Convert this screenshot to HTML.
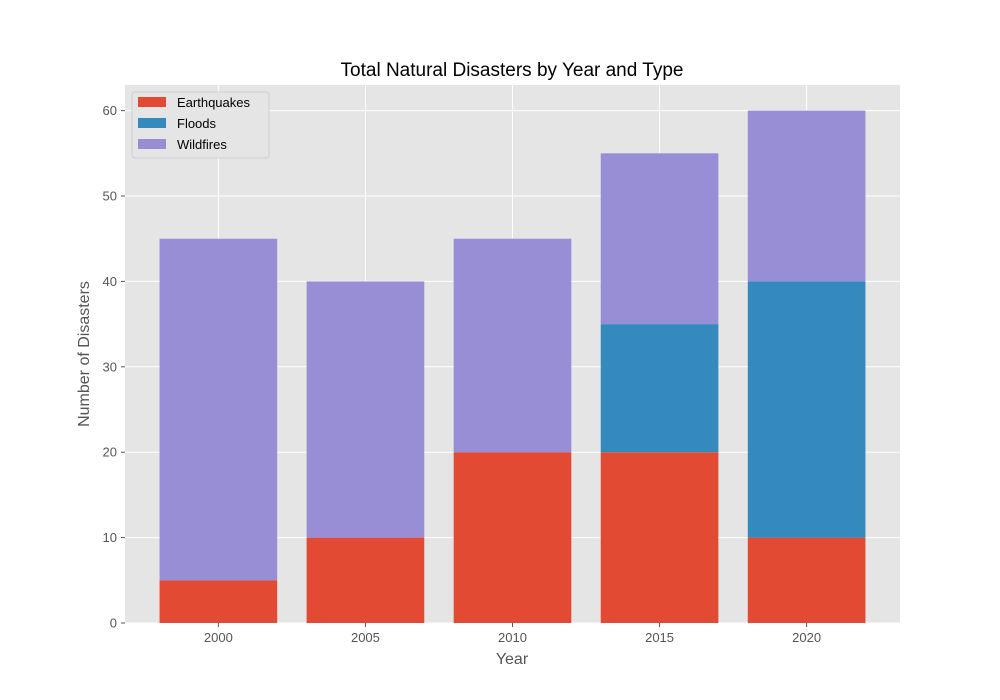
<!DOCTYPE html>
<html><head><meta charset="utf-8"><style>
body{margin:0;background:#fff;}
svg{display:block;font-family:"Liberation Sans","DejaVu Sans",sans-serif;}
</style></head><body>
<svg id="chart" width="1000" height="700">
<rect x="0" y="0" width="1000" height="700" fill="#fff"/>
<rect x="125" y="85" width="775" height="538" fill="#e5e5e5"/>
<g id="grid"></g><g id="bars"></g><g id="axes"></g>
<text x="512" y="76" text-anchor="middle" font-size="19" fill="#000">Total Natural Disasters by Year and Type</text>
<text x="512" y="664" text-anchor="middle" font-size="16" fill="#555">Year</text>
<text transform="translate(89,354) rotate(-90)" text-anchor="middle" font-size="16" fill="#555">Number of Disasters</text>
<g id="legend">
<rect x="132" y="92" width="137" height="66" rx="3" fill="#e5e5e5" stroke="#ccc" stroke-width="1" opacity="0.9"/>
</g>
</svg>
<script>
const categories=["2000","2005","2010","2015","2020"];
const earthquakes=[5,10,20,20,10];
const floods=[0,0,0,15,30];
const wildfires=[40,30,25,20,20];
const yTicks=[0,10,20,30,40,50,60];
const seriesNames=["Earthquakes","Floods","Wildfires"];
const colors=["#E24A33","#348ABD","#988ED5"];
const NS="http://www.w3.org/2000/svg";
const L=125,R=900,T=85,B=623,ymax=63,xmin=-0.635,xmax=4.635;
const ys=v=>B-(v/ymax)*(B-T);
const xs=i=>L+(i-xmin)/(xmax-xmin)*(R-L);
function mk(tag,attrs,parent){const e=document.createElementNS(NS,tag);for(const k in attrs)e.setAttribute(k,attrs[k]);parent.appendChild(e);return e;}
const grid=document.getElementById('grid'),bars=document.getElementById('bars'),axes=document.getElementById('axes'),legend=document.getElementById('legend');
yTicks.forEach(t=>{
 const y=ys(t);
 const g=mk('line',{x1:L,x2:R,y1:y,y2:y,stroke:'#fff','stroke-width':1},grid);
 
 
 mk('line',{x1:L-4,x2:L,y1:y,y2:y,stroke:'#555'},axes);
 const tx=mk('text',{x:L-8,y:y+4.5,'text-anchor':'end','font-size':13,fill:'#555'},axes);
 tx.textContent=t;
 
 
});
categories.forEach((c,i)=>{
 const x=xs(i);
 const g=mk('line',{x1:x,x2:x,y1:T,y2:B,stroke:'#fff','stroke-width':1},grid);
 
 
 mk('line',{x1:x,x2:x,y1:B,y2:B+4,stroke:'#555'},axes);
 const tx=mk('text',{x:x,y:B+19,'text-anchor':'middle','font-size':13,fill:'#555'},axes);
 tx.textContent=c;
 
 
});
const series=[earthquakes,floods,wildfires];
const w=(xs(0.4)-xs(-0.4));
categories.forEach((c,i)=>{
 let base=0;
 series.forEach((s,k)=>{
  const v=s[i];
  if(v>0){
   const r=mk('rect',{x:xs(i)-w/2,y:ys(base+v),width:w,height:ys(base)-ys(base+v),fill:colors[k]},bars);
   
   
  }
  base+=v;
 });
});
seriesNames.forEach((n,k)=>{
 const y=102+k*21;
 const r=mk('rect',{x:138,y:y-5,width:28,height:10,fill:colors[k]},legend);
 
 
 const t=mk('text',{x:177,y:y+5,'font-size':13,fill:'#000'},legend);
 t.textContent=n;
 
 
});
</script>
</body></html>
